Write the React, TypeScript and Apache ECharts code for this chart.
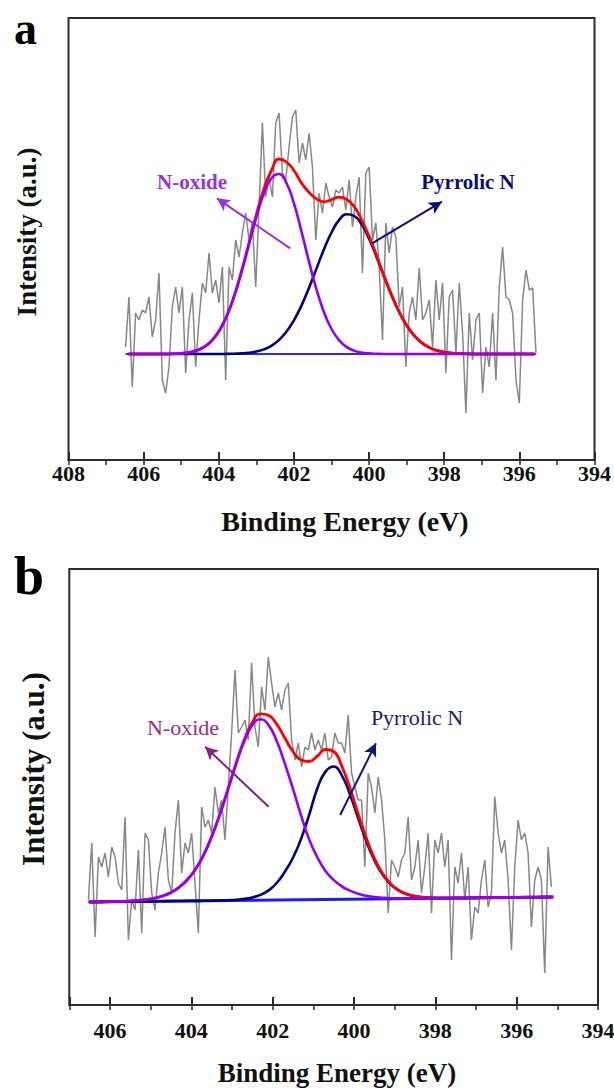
import { useEffect, useRef } from "react";
import * as echarts from "echarts";

const FONT = "'Liberation Serif', 'Times New Roman', Times, serif";

// ---------- Panel a ----------
// raw spectrum, sampled on a regular energy grid
const rawStartA = 406.48;
const rawStepA = 0.0888;
const rawA = [
  113, 163, 73, 147, 140, 150, 147, 163, 123, 140,
  187, 80, 67, 93, 153, 173, 147, 173, 87, 140,
  167, 93, 140, 177, 167, 207, 167, 180, 157, 193,
  80, 193, 180, 220, 203, 227, 247, 220, 237, 173,
  253, 337, 263, 283, 263, 337, 347, 287, 280, 313,
  343, 350, 297, 317, 300, 327, 293, 220, 267, 247,
  277, 263, 253, 270, 267,
  273, 250, 280, 233, 263, 283, 187, 287, 293, 220,
  237, 193, 120, 237, 207, 233, 223, 153, 173, 93,
  147, 163, 140, 192, 140, 147, 160, 113, 180, 140,
  177, 87, 163, 170, 107, 177, 127, 47, 147, 100,
  140, 147, 67, 113, 93, 147, 80, 173, 213, 163,
  160, 147, 80, 57, 160, 190, 170, 172, 107,
];
// fitted components, 406.4 -> 395.6 every 0.2 eV
const fitStartA = 406.4;
const fitStepA = 0.2;
const purpleA = [
  106, 106, 106, 106, 106, 106, 106.3, 106.7, 107.6, 109.4,
  112.8, 118.8, 128.5, 143, 162.7, 187.4, 215.2, 242.9, 266.4, 281.7,
  286, 277, 256.6, 228.7, 198.6, 170.7, 147.8, 131, 119.9, 113.1,
  109.4, 107.5, 106.6, 106.2, 106, 106, 106, 106, 106, 106,
  106, 106, 106, 106, 106, 106, 106, 106, 106, 106,
  106, 106, 106, 106, 106,
];
const navyA = [
  106, 106, 106, 106, 106, 106, 106, 106, 106, 106,
  106, 106, 106, 106.1, 106.3, 106.6, 107.2, 108.5, 110.6, 114.2,
  119.9, 128.2, 139.7, 154.4, 172.1, 191.4, 210.7, 227.5, 239.8, 245.7,
  244.2, 235.6, 221.2, 203.1, 183.6, 164.8, 148.2, 134.7, 124.5, 117.3,
  112.6, 109.6, 107.9, 106.9, 106.4, 106.2, 106, 106, 106, 106,
  106, 106, 106, 106, 106,
];
const redA = [
  106, 106, 106, 106, 106, 106, 106.3, 106.7, 107.6, 109.4,
  112.8, 118.8, 128.5, 143.1, 163, 188, 216.4, 245.4, 271, 289.5,
  301, 298, 289.5, 277.1, 267.7, 261.1, 258.2, 260.3, 262.9, 260.8,
  253.6, 240.1, 223.8, 204.3, 183.6, 164.8, 148.2, 134.7, 124.5, 117.3,
  112.6, 109.6, 107.9, 106.9, 106.4, 106.2, 106, 106, 106, 106,
  106, 106, 106, 106, 106,
];
const baseEA = [406.48, 395.56];
const baseA = [106, 106];
const arrowOxideA = [[402.1, 211.7], [404.05, 261.7]];
const arrowPyrA = [[399.92, 216.7], [398.06, 258.3]];

// ---------- Panel b ----------
const rawStartB = 406.53;
const rawStepB = 0.0819;
const rawB = [
  105, 162, 68, 148, 138, 152, 128, 158, 148, 122,
  115, 188, 65, 105, 95, 155, 72, 172, 165, 112,
  95, 132, 152, 178, 125, 112, 172, 205, 132, 162,
  152, 172, 122, 72, 198, 178, 185, 172, 218, 192,
  205, 165, 218, 272, 335, 272, 278, 285, 265, 342,
  278, 258, 318, 295, 348, 322, 298, 312, 295, 315,
  322, 265, 245, 262, 238, 258, 255, 272, 255, 265,
  255, 272, 245, 248, 272, 262,
  262, 252, 290, 232, 218, 205, 205, 138, 232, 218,
  192, 228, 205, 165, 92, 145, 138, 128, 145, 152,
  188, 125, 138, 165, 112, 138, 172, 92, 165, 152,
  172, 138, 165, 45, 138, 122, 152, 105, 138, 65,
  98, 92, 125, 145, 98, 112, 208, 172, 152, 165,
  125, 55, 138, 185, 165, 172, 152, 78, 125, 138,
  125, 32, 158, 118,
];
// fitted components, 406.5 -> 395.1 every 0.2 eV
const fitStartB = 406.5;
const fitStepB = 0.2;
const purpleB = [
  103, 103.1, 103.2, 103.5, 103.7, 104, 104.6, 105.5, 106.9, 109.1,
  112.5, 117.7, 125.2, 135.6, 149.9, 168.3, 190.4, 215.4, 240.9, 263.6,
  279.8, 285.8, 279.9, 263.9, 241.4, 216.1, 189.3, 165.4, 147.5, 134,
  125.1, 118.7, 114.4, 111.2, 109.2, 108, 107.3, 106.8, 106.6, 106.6,
  106.5, 106.6, 106.7, 106.8, 106.9, 107, 107, 107.1, 107.2, 107.3,
  107.4, 107.5, 107.6, 107.7, 107.8, 107.8, 107.9, 108,
];
const navyB = [
  103, 103.1, 103.2, 103.3, 103.4, 103.4, 103.5, 103.6, 103.7, 103.8,
  103.9, 104, 104.1, 104.1, 104.2, 104.3, 104.5, 104.8, 105.2, 106.1,
  107.6, 110.1, 114.6, 122, 133.3, 147.2, 166.3, 190.4, 216.8, 233.4,
  238.5, 229.7, 210.7, 187.2, 164.2, 145, 130.6, 120.7, 114.5, 110.8,
  108.8, 107.7, 107.2, 107, 106.9, 107, 107, 107.1, 107.2, 107.3,
  107.4, 107.5, 107.6, 107.7, 107.8, 107.8, 107.9, 108,
];
const redB = [
  103, 103.1, 103.2, 103.5, 103.7, 104, 104.6, 105.5, 106.9, 109.1,
  112.5, 117.7, 125.2, 135.6, 149.9, 168.3, 190.5, 215.7, 241.5, 265,
  282.6, 291.1, 289.6, 280.9, 267, 253.5, 245, 243.5, 249, 255.5,
  253.5, 239, 217, 191.5, 167.4, 146.9, 131.7, 121.3, 114.8, 111,
  108.8, 107.7, 107.2, 107, 106.9, 107, 107, 107.1, 107.2, 107.3,
  107.4, 107.5, 107.6, 107.7, 107.8, 107.8, 107.9, 108,
];
const baseEB = [406.53, 395.14];
const baseB = [103, 108];
const arrowOxideB = [[402.1, 198.3], [403.66, 258.3]];
const arrowPyrB = [[400.34, 190], [399.46, 261.7]];

const pairs = (xs: number[], ys: number[]) => ys.map((y, i) => [xs[i], y]);
const gridPairs = (start: number, step: number, ys: number[]) =>
  ys.map((y, i) => [+(start - i * step).toFixed(4), y]);

const AX = "#2b2b2b";

function mainX(grid: number, max: number, margin: number) {
  return {
    type: "value",
    gridIndex: grid,
    min: 394,
    max,
    interval: 2,
    inverse: true,
    axisLine: { show: true, onZero: false, lineStyle: { color: AX, width: 2 } },
    axisTick: { show: true, inside: true, length: 8, lineStyle: { color: AX, width: 2 } },
    minorTick: { show: false },
    splitLine: { show: false },
    axisLabel: {
      margin,
      fontSize: 22,
      fontWeight: "bold",
      fontFamily: FONT,
      color: "#111",
      showMinLabel: true,
      showMaxLabel: true,
      formatter: (v: number) => (v % 2 === 0 ? String(v) : ""),
    },
  };
}
function minorX(grid: number, max: number) {
  return {
    type: "value",
    gridIndex: grid,
    min: 394,
    max,
    interval: 1,
    inverse: true,
    axisLine: { show: false },
    axisTick: { show: true, inside: true, length: 5, lineStyle: { color: AX, width: 1.5 } },
    axisLabel: { show: false },
    splitLine: { show: false },
  };
}
function yAx(grid: number, max: number) {
  return {
    type: "value",
    gridIndex: grid,
    min: 0,
    max,
    axisLine: { show: false },
    axisTick: { show: false },
    axisLabel: { show: false },
    splitLine: { show: false },
  };
}
function line(xi: number, data: number[][], color: string, width: number, smooth: boolean, z: number) {
  return {
    type: "line",
    xAxisIndex: xi,
    yAxisIndex: xi,
    data,
    symbol: "none",
    showSymbol: false,
    smooth: smooth ? 0.5 : false,
    lineStyle: { color, width },
    emphasis: { disabled: true },
    silent: true,
    z,
  };
}
function arrows(list: { pts: number[][]; color: string }[]) {
  return {
    silent: true,
    symbol: ["none", "arrow"],
    symbolSize: [10, 13],
    label: { show: false },
    emphasis: { disabled: true },
    data: list.map((a) => [
      { coord: a.pts[0], lineStyle: { color: a.color, width: 2, type: "solid" }, itemStyle: { color: a.color } },
      { coord: a.pts[1] },
    ]),
  };
}
function txt(text: string, x: number, y: number, size: number, bold: boolean, fill: string, rotation = 0, align = "center") {
  return {
    type: "text",
    x,
    y,
    rotation,
    silent: true,
    z: 100,
    style: {
      text,
      fontSize: size,
      fontWeight: bold ? "bold" : "normal",
      fontFamily: FONT,
      fill,
      align,
      verticalAlign: "middle",
    },
  };
}

export default function App() {
  const ref = useRef<HTMLDivElement>(null);
  useEffect(() => {
    if (!ref.current) return;
    const chart = echarts.init(ref.current, undefined, { renderer: "svg" });
    const gridCommon = {
      show: true,
      borderColor: AX,
      borderWidth: 2,
      backgroundColor: "transparent",
      containLabel: false,
      outerBoundsMode: "none",
    };
    const option: any = {
      animation: false,
      backgroundColor: "#ffffff",
      grid: [
        { ...gridCommon, left: 68.5, top: 18, width: 526, height: 442 },
        { ...gridCommon, left: 69.3, top: 569, width: 528.7, height: 436 },
      ],
      xAxis: [mainX(0, 408, 2), mainX(1, 407, 14), minorX(0, 408), minorX(1, 407)],
      yAxis: [yAx(0, 442), yAx(1, 436)],
      series: [
        line(0, gridPairs(rawStartA, rawStepA, rawA), "#878787", 1.5, false, 1),
        {
          ...line(0, pairs(baseEA, baseA), "#2a2aff", 2, false, 2),
          markLine: arrows([
            { pts: arrowOxideA, color: "#9b30e0" },
            { pts: arrowPyrA, color: "#0b0b80" },
          ]),
        },
        line(0, gridPairs(fitStartA, fitStepA, navyA), "#000080", 2.6, true, 3),
        line(0, gridPairs(fitStartA, fitStepA, redA), "#ff0000", 2.8, true, 4),
        line(0, gridPairs(fitStartA, fitStepA, purpleA), "#8f00ff", 2.6, true, 5),

        line(1, gridPairs(rawStartB, rawStepB, rawB), "#878787", 1.5, false, 1),
        {
          ...line(1, pairs(baseEB, baseB), "#1a1aff", 3, false, 2),
          markLine: arrows([
            { pts: arrowOxideB, color: "#8b1f80" },
            { pts: arrowPyrB, color: "#101880" },
          ]),
        },
        line(1, gridPairs(fitStartB, fitStepB, navyB), "#000080", 2.6, true, 3),
        line(1, gridPairs(fitStartB, fitStepB, redB), "#ff0000", 2.8, true, 4),
        line(1, gridPairs(fitStartB, fitStepB, purpleB), "#8f00ff", 2.6, true, 5),
      ],
      graphic: [
        txt("a", 14, 28.5, 46, true, "#000", 0, "left"),
        txt("b", 14, 576, 54, true, "#000", 0, "left"),
        txt("Intensity (a.u.)", 27, 232, 27, true, "#111", Math.PI / 2),
        txt("Intensity (a.u.)", 33, 769, 31, true, "#111", Math.PI / 2),
        txt("Binding Energy (eV)", 345, 521, 28, true, "#111"),
        txt("Binding Energy (eV)", 337, 1073, 27, true, "#111"),
        txt("N-oxide", 192, 182, 21, true, "#9b30e0"),
        txt("Pyrrolic N", 468, 182, 21, true, "#0b0b80"),
        txt("N-oxide", 183, 727, 22, false, "#9a2a8c"),
        txt("Pyrrolic N", 417, 717, 22, false, "#1b1b70"),
      ],
    };
    chart.setOption(option);
    return () => chart.dispose();
  }, []);
  return (
    <div
      ref={ref}
      style={{ position: "absolute", left: 0, top: 0, width: 614, height: 1088, background: "#fff" }}
    />
  );
}
